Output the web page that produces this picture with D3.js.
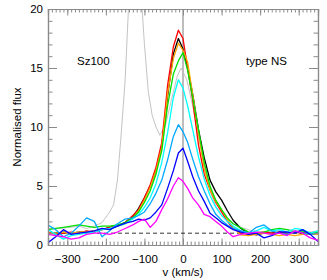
<!DOCTYPE html>
<html>
<head>
<meta charset="utf-8">
<script src="https://d3js.org/d3.v7.min.js"></script>
<style>
  html, body { margin: 0; padding: 0; background: #fff; }
  #chart { width: 327px; height: 280px; }
  text { font-family: "Liberation Sans", Arial, Helvetica, sans-serif; }
</style>
</head>
<body>
<div id="chart"></div>
<script>
// velocity grid shared by the coloured profiles (km/s)
const velocity = [-350, -330, -310, -290, -270, -250, -230, -210, -190, -170, -150, -130, -115, -100, -85, -70, -55, -40, -25, -12,
  0, 12, 25, 40, 55, 70, 85, 100, 115, 130, 150, 170, 190, 210, 230, 250, 270, 290, 310, 330, 350]

const fluxBlack = [1.0, 1.0, 1.1, 1.0, 1.1, 1.1, 1.2, 1.3, 1.5, 1.6, 1.9, 2.4, 3.1, 4.0, 5.0, 6.3, 8.4, 12.6, 16.2, 17.5,
  16.6, 15.0, 12.8, 9.8, 7.4, 5.5, 4.5, 3.8, 2.9, 2.1, 1.4, 1.0, 0.85, 1.0, 1.0, 1.1, 1.0, 1.1, 1.0, 1.0, 1.0]
const fluxRed = [1.1, 0.9, 1.0, 1.1, 1.0, 1.2, 1.1, 1.3, 1.5, 1.6, 1.9, 2.5, 3.0, 4.0, 5.1, 6.6, 8.7, 13.5, 16.8, 18.2,
  17.5, 15.0, 12.3, 8.5, 6.0, 4.7, 3.6, 2.8, 2.0, 1.4, 1.0, 0.9, 1.0, 1.1, 1.0, 1.1, 1.0, 1.1, 1.0, 1.0, 0.9]
const fluxOrange = [1.0, 1.0, 1.1, 1.0, 1.1, 1.1, 1.2, 1.3, 1.4, 1.6, 1.8, 2.3, 2.9, 3.8, 4.9, 6.3, 8.3, 12.8, 15.8, 17.1,
  16.5, 15.5, 12.8, 9.5, 6.5, 4.7, 3.7, 3.0, 2.2, 1.5, 0.85, 0.8, 0.9, 1.0, 0.9, 0.8, 0.9, 0.8, 0.9, 0.9, 0.9]
const fluxGreen = [1.3, 1.4, 1.5, 1.6, 1.7, 1.6, 1.5, 1.6, 1.6, 1.7, 1.9, 2.3, 2.8, 3.6, 4.6, 6.0, 8.0, 11.8, 14.5, 15.6,
  16.3, 14.8, 12.5, 9.8, 7.0, 5.0, 3.8, 3.0, 2.3, 1.8, 1.45, 1.1, 1.0, 1.1, 1.3, 1.4, 1.3, 1.1, 1.2, 1.0, 1.1]
const fluxCyan = [1.3, 0.9, 0.5, 0.8, 0.9, 1.0, 1.1, 1.3, 1.4, 1.6, 1.8, 2.2, 2.6, 3.2, 4.0, 5.2, 7.0, 9.5, 12.5, 14.0,
  13.3, 11.8, 9.8, 7.5, 5.6, 4.2, 3.2, 2.5, 2.0, 1.6, 1.2, 1.0, 1.2, 1.5, 1.2, 1.3, 1.1, 1.4, 1.3, 1.0, 1.2]
const fluxSky = [1.7, 1.3, 0.7, 1.0, 1.6, 2.3, 2.0, 0.7, 1.2, 1.8, 2.2, 2.3, 2.5, 2.8, 3.5, 4.4, 5.5, 7.2, 9.2, 10.2,
  9.6, 8.7, 7.3, 5.8, 4.6, 3.5, 2.6, 2.1, 1.7, 1.4, 1.2, 1.0, 1.5, 1.7, 1.2, 1.0, 0.9, 1.2, 1.0, 0.9, 1.0]
const fluxBlue = [0.2, 0.7, 1.3, 0.9, 1.0, 1.1, 1.2, 1.4, 1.3, 1.6, 1.85, 2.0, 2.2, 2.1, 2.3, 2.8, 3.4, 4.8, 6.3, 7.8,
  8.2, 7.1, 5.8, 4.6, 3.7, 2.7, 2.3, 1.9, 1.6, 1.3, 1.1, 0.9, 1.0, 0.6, 0.8, 1.1, 1.1, 1.0, 1.3, 0.9, 0.3]
const fluxMagenta = [0.9, 0.8, 0.7, 0.5, 0.6, 0.9, 1.0, 1.0, 0.9, 1.1, 1.4, 1.7, 2.0, 2.2, 1.5, 2.0, 3.0, 3.9, 5.0, 5.7,
  5.4, 4.8, 4.0, 3.4, 2.6, 2.4, 2.0, 1.6, 1.1, 0.7, 0.9, 1.0, 1.1, 1.0, 0.9, 1.0, 0.8, 1.2, 1.0, 0.6, 0.4]

// thin grey comparison profile, with its own grid
const greyVelocity = [-350, -320, -290, -270, -250, -230, -210, -190, -180, -170, -160, -150, -140, -125, -110, -100, -90, -80, -70, -60,
  -45, -30, -15, -5, 10, 25, 40, 55, 70, 85, 100, 120, 150, 180, 210, 240, 270, 300, 330, 350]
const greyFlux = [1.4, 1.4, 1.5, 1.6, 1.4, 1.6, 1.9, 2.8, 3.4, 5.5, 9.5, 14, 21, 30, 22, 17, 13, 11, 10, 9.3,
  10.2, 12.3, 14.3, 15, 14.0, 11.8, 9.2, 6.8, 4.6, 3.3, 2.6, 2.0, 1.5, 1.2, 1.1, 1.2, 1.3, 1.2, 1.1, 1.2]

const seriesColors = ['#000000', '#ff0000', '#ffa500', '#00e000', '#00ffff', '#00a8ff', '#0000ff', '#ff00ff']
const seriesFlux = [fluxBlack, fluxRed, fluxOrange, fluxGreen, fluxCyan, fluxSky, fluxBlue, fluxMagenta]

const xTicks = [-300, -200, -100, 0, 100, 200, 300]
const yTicks = [0, 5, 10, 15, 20]

const width = 327
const height = 280
const PADDING = {top: 9, right: 9, bottom: 35, left: 48}
const FONT_SIZE = 11.5
const AXIS_COLOR = '#8a8a8a'

const x = d3.scaleLinear().domain([-350, 350]).range([PADDING.left, width - PADDING.right])
const y = d3.scaleLinear().domain([0, 20]).range([height - PADDING.bottom, PADDING.top])

const svg = d3.select('#chart')
  .append('svg')
  .attr('width', width)
  .attr('height', height)

svg.append('clipPath').attr('id', 'plotClip')
  .append('rect')
  .attr('x', x(-350)).attr('y', y(20))
  .attr('width', x(350) - x(-350)).attr('height', y(0) - y(20))

const plot = svg.append('g').attr('clip-path', 'url(#plotClip)')

// zero velocity marker and continuum level
plot.append('line')
  .attr('x1', x(0)).attr('x2', x(0)).attr('y1', y(0)).attr('y2', y(20))
  .attr('stroke', '#bdbdbd').attr('stroke-width', 2)

plot.append('line')
  .attr('x1', x(-350)).attr('x2', x(350)).attr('y1', y(1)).attr('y2', y(1))
  .attr('stroke', '#000').attr('stroke-width', 0.8).attr('stroke-dasharray', '4,3')

const line = d3.line().x(d => x(d[0])).y(d => y(d[1]))

plot.append('path')
  .datum(greyVelocity.map((v, i) => [v, greyFlux[i]]))
  .attr('d', line)
  .attr('fill', 'none').attr('stroke', '#bcbcbc').attr('stroke-width', 0.9)

plot.selectAll('path.profile')
  .data(seriesFlux)
  .enter()
  .append('path')
  .classed('profile', true)
  .attr('d', f => line(velocity.map((v, i) => [v, f[i]])))
  .attr('fill', 'none')
  .attr('stroke', (d, i) => seriesColors[i])
  .attr('stroke-width', 1.3)
  .attr('stroke-linejoin', 'round')

drawAxes()
drawLabels()

function drawAxes () {
  const inner = -1
  const xMinor = d3.range(-350, 351, 10)
  const yMinor = d3.range(0, 21, 1)

  const bottom = svg.append('g').attr('transform', `translate(0, ${y(0)})`)
    .call(d3.axisBottom(x).tickValues(xMinor).tickSize(3.5 * inner).tickFormat(''))
  const bottomMajor = svg.append('g').attr('transform', `translate(0, ${y(0)})`)
    .call(d3.axisBottom(x).tickValues(xTicks).tickSize(6.5 * inner).tickPadding(10).tickFormat(d => d < 0 ? '\u2212' + Math.abs(d) : d))
  const top = svg.append('g').attr('transform', `translate(0, ${y(20)})`)
    .call(d3.axisTop(x).tickValues(xMinor).tickSize(3.5 * inner).tickFormat(''))
  const topMajor = svg.append('g').attr('transform', `translate(0, ${y(20)})`)
    .call(d3.axisTop(x).tickValues(xTicks).tickSize(6.5 * inner).tickFormat(''))

  const left = svg.append('g').attr('transform', `translate(${x(-350)}, 0)`)
    .call(d3.axisLeft(y).tickValues(yMinor).tickSize(4.5 * inner).tickFormat(''))
  const leftMajor = svg.append('g').attr('transform', `translate(${x(-350)}, 0)`)
    .call(d3.axisLeft(y).tickValues(yTicks).tickSize(9 * inner).tickPadding(5))
  const right = svg.append('g').attr('transform', `translate(${x(350)}, 0)`)
    .call(d3.axisRight(y).tickValues(yMinor).tickSize(4.5 * inner).tickFormat(''))
  const rightMajor = svg.append('g').attr('transform', `translate(${x(350)}, 0)`)
    .call(d3.axisRight(y).tickValues(yTicks).tickSize(9 * inner).tickFormat(''))

  ;[bottom, bottomMajor, top, topMajor, left, leftMajor, right, rightMajor].forEach(g => {
    g.select('.domain').attr('stroke', AXIS_COLOR).attr('stroke-width', 1.2)
    g.selectAll('.tick line').attr('stroke', AXIS_COLOR).attr('stroke-width', 1)
    g.selectAll('.tick text').attr('fill', '#000').attr('font-size', FONT_SIZE)
      .style('font-family', '"Liberation Sans", Arial, sans-serif')
  })
}

function drawLabels () {
  svg.append('text')
    .attr('x', x(0)).attr('y', 276)
    .attr('text-anchor', 'middle').attr('font-size', FONT_SIZE)
    .text('v (km/s)')

  svg.append('text')
    .attr('transform', `translate(21, ${y(10)}) rotate(-90)`)
    .attr('text-anchor', 'middle').attr('font-size', FONT_SIZE)
    .text('Normalised flux')

  svg.append('text')
    .attr('x', 77).attr('y', 65).attr('font-size', FONT_SIZE)
    .text('Sz100')

  svg.append('text')
    .attr('x', 246).attr('y', 65).attr('font-size', FONT_SIZE)
    .text('type NS')
}
</script>
</body>
</html>
